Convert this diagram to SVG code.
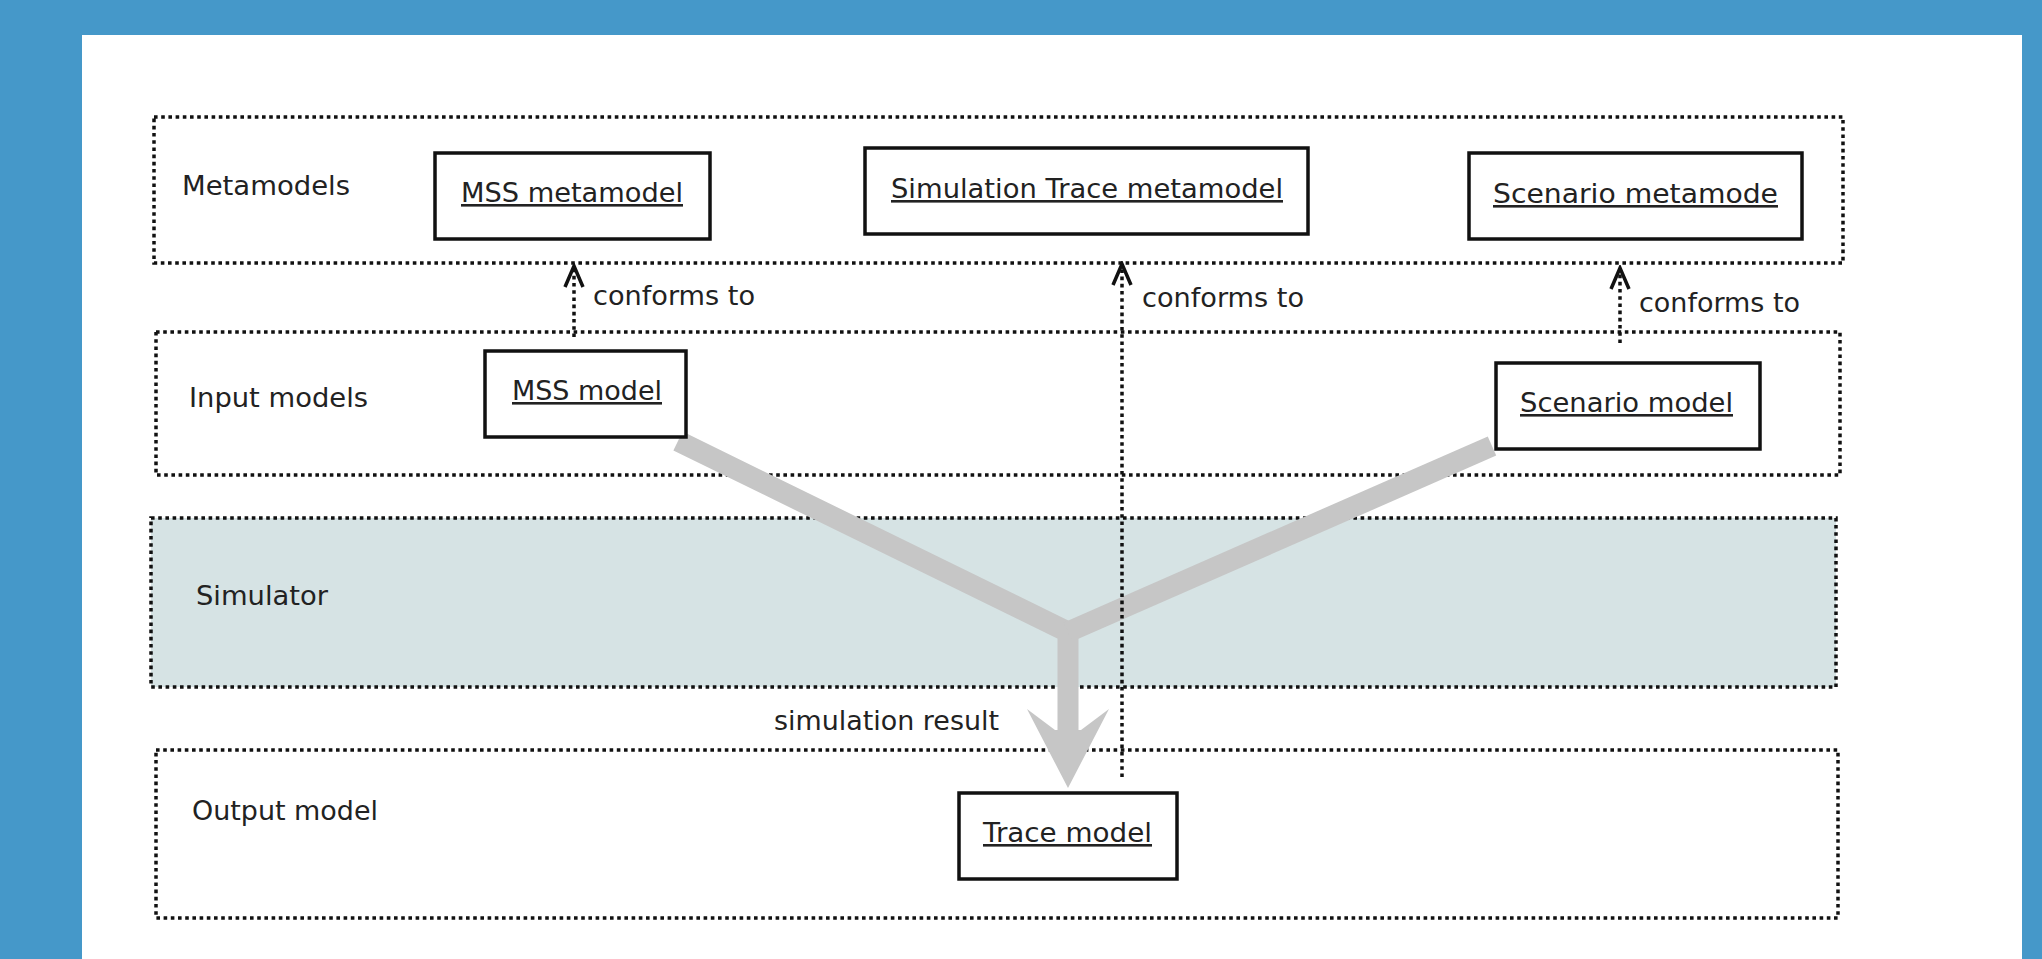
<svg xmlns="http://www.w3.org/2000/svg" width="2042" height="959" viewBox="0 0 2042 959">
<style>
.txt{font-family:"DejaVu Sans","Liberation Sans",sans-serif;font-size:26px;fill:#222}
.u{text-decoration:underline}
.cont{fill:none;stroke:#111;stroke-width:3.5;stroke-dasharray:3.6 3.6}
.box{fill:#fff;stroke:#111;stroke-width:3.5}
.dot{fill:none;stroke:#111;stroke-width:3.5;stroke-dasharray:3.6 3.6}
.flow{fill:none;stroke:#c6c6c6;stroke-linejoin:miter}
</style>
<defs>
<marker id="open" markerUnits="userSpaceOnUse" markerWidth="26" markerHeight="22" viewBox="0 0 26 22" refX="23" refY="11" orient="auto">
<path d="M2,2 L23,11 L2,20" fill="none" stroke="#111" stroke-width="3.5" stroke-dasharray="none"/>
</marker>
</defs>
<rect x="0" y="0" width="2042" height="959" fill="#4598c9"/>
<rect x="82" y="35" width="1940" height="930" fill="#fff"/>

<g id="metamodels">
<rect class="cont" x="154" y="117" width="1689" height="146"/>
<text class="txt" x="182" y="195" textLength="168" lengthAdjust="spacingAndGlyphs">Metamodels</text>
</g>
<g id="input-models">
<rect class="cont" x="156" y="332" width="1684" height="143"/>
<text class="txt" x="189" y="407" textLength="179" lengthAdjust="spacingAndGlyphs">Input models</text>
</g>
<g id="simulator">
<rect class="cont" x="151" y="518" width="1685" height="169" style="fill:#d6e3e4"/>
<text class="txt" x="196" y="605" textLength="132" lengthAdjust="spacingAndGlyphs">Simulator</text>
</g>
<g id="output-model">
<rect class="cont" x="156" y="750" width="1682" height="168"/>
<text class="txt" x="192" y="820" textLength="186" lengthAdjust="spacingAndGlyphs">Output model</text>
</g>

<g id="connectors">
<path class="flow" stroke-width="21" d="M678,441 L1068,632 L1068,732"/>
<path class="flow" stroke-width="21" d="M1492,446 L1068,632"/>
<polygon points="1055,730 1027,709 1068,788 1109,709 1081,730" fill="#c6c6c6"/>
<text class="txt" x="774" y="730" textLength="225" lengthAdjust="spacingAndGlyphs">simulation result</text>
<line class="dot" x1="574" y1="337" x2="574" y2="266" marker-end="url(#open)"/>
<text class="txt" x="593" y="305" textLength="162" lengthAdjust="spacingAndGlyphs">conforms to</text>
<line class="dot" x1="1122" y1="777" x2="1122" y2="264" marker-end="url(#open)"/>
<text class="txt" x="1142" y="307" textLength="162" lengthAdjust="spacingAndGlyphs">conforms to</text>
<line class="dot" x1="1620" y1="343" x2="1620" y2="268" marker-end="url(#open)"/>
<text class="txt" x="1639" y="312" textLength="161" lengthAdjust="spacingAndGlyphs">conforms to</text>
</g>

<g id="mss-metamodel">
<rect class="box" x="435" y="153" width="275" height="86"/>
<text class="txt u" x="461" y="202" textLength="222" lengthAdjust="spacingAndGlyphs">MSS metamodel</text>
</g>
<g id="simulation-trace-metamodel">
<rect class="box" x="865" y="148" width="443" height="86"/>
<text class="txt u" x="891" y="198" textLength="392" lengthAdjust="spacingAndGlyphs">Simulation Trace metamodel</text>
</g>
<g id="scenario-metamodel">
<rect class="box" x="1469" y="153" width="333" height="86"/>
<text class="txt u" x="1493" y="203" textLength="285" lengthAdjust="spacingAndGlyphs">Scenario metamode</text>
</g>
<g id="mss-model">
<rect class="box" x="485" y="351" width="201" height="86"/>
<text class="txt u" x="512" y="400" textLength="150" lengthAdjust="spacingAndGlyphs">MSS model</text>
</g>
<g id="scenario-model">
<rect class="box" x="1496" y="363" width="264" height="86"/>
<text class="txt u" x="1520" y="412" textLength="213" lengthAdjust="spacingAndGlyphs">Scenario model</text>
</g>
<g id="trace-model">
<rect class="box" x="959" y="793" width="218" height="86"/>
<text class="txt u" x="983" y="842" textLength="169" lengthAdjust="spacingAndGlyphs">Trace model</text>
</g>
</svg>
